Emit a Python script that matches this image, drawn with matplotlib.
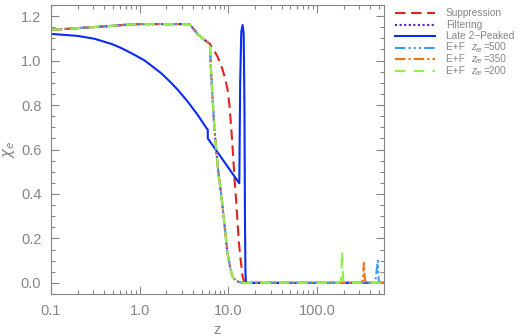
import numpy as np
import matplotlib
matplotlib.use('Agg')
from matplotlib import pyplot as plt
from matplotlib.lines import Line2D
from matplotlib.ticker import FixedLocator, NullFormatter, MultipleLocator

plt.rcParams['font.family'] = ['Liberation Sans', 'DejaVu Sans']
gray = '#858585'

# common early part (all curves identical at low z)
z_top = [0.1, 0.2, 0.48, 0.74, 1.0, 2.0, 3.65, 4.5, 5.36, 6.1]
x_top = [1.138, 1.146, 1.156, 1.162, 1.164, 1.164, 1.164, 1.12, 1.093, 1.078]

# Suppression
z_supp = [6.67, 7.5, 8.0, 8.6, 9.2, 9.8, 10.3, 11.0, 11.7, 12.4, 13.1, 13.8, 14.5, 15.2, 570]
x_supp = [1.056, 1.02, 0.995, 0.96, 0.92, 0.87, 0.80, 0.65, 0.48, 0.34, 0.19, 0.10, 0.03, 0.0, 0.0]

# Filtering
z_filt = [6.2, 6.35, 6.6, 6.95, 7.3, 7.7, 8.3, 9.0, 9.8, 10.5, 11.1, 12.0, 13.3, 15.0]
x_filt = [1.07, 0.97, 0.85, 0.70, 0.60, 0.50, 0.40, 0.27, 0.13, 0.07, 0.03, 0.012, 0.003, 0.0]

# Late 2-Peaked
z_late = [0.1, 0.2, 0.31, 0.48, 0.6, 0.74, 0.92, 1.14, 1.4, 1.75, 2.2, 2.7, 3.49, 4.52, 5.7, 5.86, 5.87,
          13.3, 13.6, 14.0, 14.5, 14.9, 15.2, 15.4, 15.6, 15.8, 570]
x_late = [1.12, 1.111, 1.098, 1.075, 1.059, 1.041, 1.021, 1.0, 0.973, 0.943, 0.905, 0.868, 0.815, 0.755, 0.695, 0.69, 0.65,
          0.448, 0.9, 1.13, 1.16, 1.12, 0.8, 0.3, 0.05, 0.0, 0.0]

# E+F spikes at reionization
z_sp500 = [440, 460, 472, 486, 492, 500, 570]
x_sp500 = [0.0, 0.02, 0.06, 0.10, 0.05, 0.0, 0.0]
z_sp350 = [310, 328, 333, 338, 342, 348, 360, 570]
x_sp350 = [0.0, 0.01, 0.05, 0.09, 0.05, 0.01, 0.0, 0.0]
z_sp200 = [175, 186, 189, 192, 195, 198, 210, 570]
x_sp200 = [0.0, 0.01, 0.07, 0.143, 0.07, 0.01, 0.0, 0.0]

labels = ['Suppression', 'Filtering', 'Late 2\u2212Peaked', 'E+F', 'E+F', 'E+F']
zre_labels = [None, None, None, '500', '350', '200']
colors = ['#e3201e', '#5a1fc8', '#0a2cf0', '#3d9cf0', '#ee7418', '#8ef04a']
styles = [(0, (5, 2.7)), (0, (1, 1.2)), '-',
          (0, (5, 1.5, 1, 1.5, 1, 1.5, 1, 1.5)), (0, (5, 1.5, 1, 1.5)), (0, (5, 4))]

curves = [(z_top + z_supp, x_top + x_supp),
          (z_top + z_filt + [570], x_top + x_filt + [0.0]),
          (z_late, x_late),
          (z_top + z_filt + z_sp500, x_top + x_filt + x_sp500),
          (z_top + z_filt + z_sp350, x_top + x_filt + x_sp350),
          (z_top + z_filt + z_sp200, x_top + x_filt + x_sp200)]

fig = plt.figure(figsize=(5.23, 3.36), dpi=100)
ax = fig.add_axes([51/523, 1-294/336, (384-51)/523, (294-5)/336])

lw = 1.5
for (zz, xx), c, s in zip(curves, colors, styles):
    ax.plot(zz, xx, color=c, ls=s, lw=lw)

ax.set_xscale('log')
ax.set_xlim(0.1, 570)
ax.set_ylim(-0.05, 1.25)
ax.set_xticks([0.1, 1, 10, 100])
ax.set_xticklabels(['0.1', '1.0', '10.0', '100.0'])
ax.xaxis.set_minor_locator(FixedLocator([m * 10.0**e for e in range(-1, 3) for m in range(2, 10)]))
ax.xaxis.set_minor_formatter(NullFormatter())
ax.set_yticks([0.0, 0.2, 0.4, 0.6, 0.8, 1.0, 1.2])
ax.set_yticklabels(['0.0', '0.2', '0.4', '0.6', '0.8', '1.0', '1.2'])
ax.yaxis.set_minor_locator(MultipleLocator(0.05))

ax.tick_params(which='both', direction='in', top=True, right=True, colors=gray, labelsize=10.5, width=0.8)
ax.tick_params(which='major', length=6, pad=7)
ax.tick_params(which='minor', length=3)
for sp in ax.spines.values():
    sp.set_color(gray)
    sp.set_linewidth(0.8)

ax.set_xlabel('z', color=gray, fontsize=10.5, labelpad=4)
ax.set_ylabel(r'$\chi_e$', color=gray, fontsize=10.5, labelpad=3)

# legend drawn by hand so the rows keep an even pitch
W, H = 523.0, 336.0
fs = 7.3
for i, (lab, zl, c, s) in enumerate(zip(labels, zre_labels, colors, styles)):
    yy = 1 - (13 + 11.5 * i) / H
    fig.add_artist(Line2D([395 / W, 435 / W], [yy, yy], transform=fig.transFigure,
                          color=c, ls=s, lw=lw))
    if zl is None:
        fig.text(446 / W, yy, lab, color=gray, fontsize=fs, va='center', ha='left')
        continue
    # "E+F  z_re=NNN" built from pieces (italic z, small subscript)
    t1 = fig.text(446 / W, yy, lab + '  ', color=gray, fontsize=fs, va='center', ha='left')
    t2 = ax.annotate('z', xy=(1, 0), xycoords=t1, color=gray, fontsize=fs, style='italic',
                     va='bottom', ha='left', annotation_clip=False)
    t3 = ax.annotate('re', xy=(1, 0), xycoords=t2, xytext=(0.2, -0.8), textcoords='offset points',
                     color=gray, fontsize=5.3, style='italic', va='bottom', ha='left', annotation_clip=False)
    ax.annotate('=' + zl, xy=(1, 0), xycoords=(t3, t2), xytext=(0.3, 0), textcoords='offset points',
                color=gray, fontsize=fs, va='bottom', ha='left', annotation_clip=False)

plt.savefig('out.png', dpi=100)
